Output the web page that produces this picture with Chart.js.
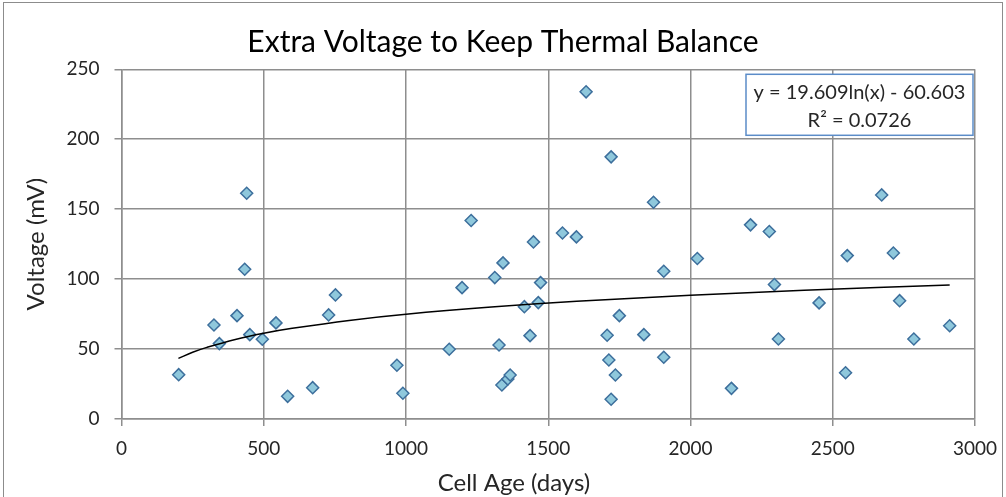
<!DOCTYPE html>
<html>
<head>
<meta charset="utf-8">
<title>Extra Voltage to Keep Thermal Balance</title>
<script src="https://cdn.jsdelivr.net/npm/chart.js@4.4.0/dist/chart.umd.min.js"></script>
<style>
    body { margin: 0; background: #fff; }
    #wrap { position: relative; width: 1006px; height: 497px; }
    #frame {
        position: absolute; left: 3px; top: 2px; width: 998px; height: 500px;
        border: 1px solid #8c8c8c; pointer-events: none;
    }
</style>
</head>
<body>
<div id="wrap">
    <canvas id="canvas" width="1006" height="497"></canvas>
    <div id="frame"></div>
</div>
<script>
// cell age (days) / extra voltage (mV)
const AGE_DAYS = [
    201, 325, 344, 406, 440, 433, 451, 495, 543, 584,
    672, 728, 752, 968, 989, 1152, 1229, 1197, 1312, 1341,
    1327, 1337, 1358, 1366, 1416, 1436, 1448, 1473, 1465, 1550,
    1599, 1633, 1721, 1707, 1713, 1736, 1721, 1750, 1836, 1870,
    1906, 1906, 2024, 2144, 2211, 2277, 2295, 2309, 2452, 2545,
    2551, 2672, 2713, 2735, 2785, 2911
];
const VOLTAGE_MV = [
    31.7, 67.2, 53.9, 73.9, 161.4, 107.1, 60.3, 57, 68.7, 16.2,
    22.4, 74.4, 88.7, 38.4, 18.4, 49.9, 141.9, 93.9, 101.1, 111.6,
    52.9, 24.3, 28.6, 31.5, 80.3, 59.6, 126.6, 97.5, 83.2, 133.0,
    130.2, 233.9, 187.4, 59.9, 42.2, 31.5, 14.1, 73.9, 60.3, 155,
    105.6, 44.1, 114.7, 21.9, 138.8, 134, 96.1, 57.2, 83, 33.1,
    116.8, 160.2, 118.7, 84.6, 57.2, 66.7
];

// log trendline, points
const TREND_X = [200, 250, 300, 400, 500, 600, 800, 1000, 1300, 1600, 2000, 2400, 2911];
const TREND_Y = [43.3, 47.7, 51.2, 56.9, 61.3, 64.8, 70.5, 74.9, 80.0, 84.1, 88.4, 92.0, 95.8];

const X_TICKS = [0, 500, 1000, 1500, 2000, 2500, 3000];
const Y_TICKS = [0, 50, 100, 150, 200, 250];

const EQUATION = ["y = 19.609ln(x) - 60.603", "R\u00b2 = 0.0726"];
const X_TITLE = 'Cell Age (days)';

const FONT = "Lato, 'Open Sans', sans-serif";
const GRID = '#8e8e8e';
const TEXT = '#262626';

function toPoints(xs, ys) {
    return xs.map(function (x, i) { return {x: x, y: ys[i]}; });
}

// equation box in the top right corner of the plot + x axis title
const extras = {
    id: 'extras',
    afterDatasetsDraw: function (chart) {
        const ctx = chart.ctx;
        const area = chart.chartArea;
        const w = 227, h = 61;
        const x = area.right - 2 - w;
        const y = area.top + 5;
        ctx.save();
        ctx.fillStyle = '#fff';
        ctx.fillRect(x, y, w, h);
        ctx.strokeStyle = '#5b8cc8';
        ctx.lineWidth = 1.5;
        ctx.strokeRect(x, y, w, h);
        ctx.fillStyle = TEXT;
        ctx.font = "20px " + FONT;
        ctx.textAlign = 'center';
        ctx.textBaseline = 'middle';
        ctx.fillText(EQUATION[0], x + w / 2, y + 18);
        ctx.fillText(EQUATION[1], x + w / 2, y + 46);

        // excel puts the axis title a bit left of the plot centre
        ctx.font = "24px " + FONT;
        ctx.fillText(X_TITLE, chart.width / 2 + 11, chart.height - 14);
        ctx.restore();
    }
};

var ctx = document.getElementById('canvas').getContext('2d');

var chart = new Chart(ctx, {
    type: 'scatter',
    data: {
        datasets: [{
            label: 'Trend',
            type: 'line',
            data: toPoints(TREND_X, TREND_Y),
            borderColor: '#000',
            borderWidth: 1.5,
            pointRadius: 0,
            tension: 0.4,
            fill: false,
            order: 0
        }, {
            label: 'Extra voltage',
            data: toPoints(AGE_DAYS, VOLTAGE_MV),
            pointStyle: 'rectRot',
            pointRadius: 6,
            pointHoverRadius: 6,
            backgroundColor: '#8fc8dc',
            borderColor: '#3d6f9c',
            borderWidth: 1.5,
            order: 1
        }]
    },
    options: {
        responsive: false,
        animation: false,
        layout: { padding: 0 },
        plugins: {
            legend: { display: false },
            tooltip: { enabled: false },
            title: {
                display: true,
                text: 'Extra Voltage to Keep Thermal Balance',
                color: '#000',
                font: { family: FONT, size: 30, weight: 'normal' },
                padding: { top: 24, bottom: 9.3 }
            }
        },
        scales: {
            x: {
                type: 'linear',
                min: 0,
                max: 3000,
                afterBuildTicks: function (scale) {
                    scale.ticks = X_TICKS.map(function (v) { return {value: v}; });
                },
                afterFit: function (scale) {
                    scale.height = 78;
                    scale.paddingRight = 31;
                },
                grid: { color: GRID, lineWidth: 1.5, tickLength: 7 },
                border: { color: GRID, width: 1.5 },
                ticks: {
                    color: TEXT,
                    font: { family: FONT, size: 19 },
                    padding: 11.5,
                    maxRotation: 0,
                    callback: function (v) { return String(v); }
                }
            },
            y: {
                type: 'linear',
                min: 0,
                max: 250,
                afterBuildTicks: function (scale) {
                    scale.ticks = Y_TICKS.map(function (v) { return {value: v}; });
                },
                afterFit: function (scale) { scale.width = 121.5; },
                grid: { color: GRID, lineWidth: 1.5, tickLength: 7 },
                border: { color: GRID, width: 1.5 },
                ticks: {
                    color: TEXT,
                    font: { family: FONT, size: 19 },
                    padding: 15,
                    callback: function (v) { return String(v); }
                },
                title: {
                    display: true,
                    text: 'Voltage (mV)',
                    color: TEXT,
                    font: { family: FONT, size: 24 },
                    padding: { top: 21.6, bottom: 0 }
                }
            }
        }
    },
    plugins: [extras]
});
</script>
</body>
</html>
